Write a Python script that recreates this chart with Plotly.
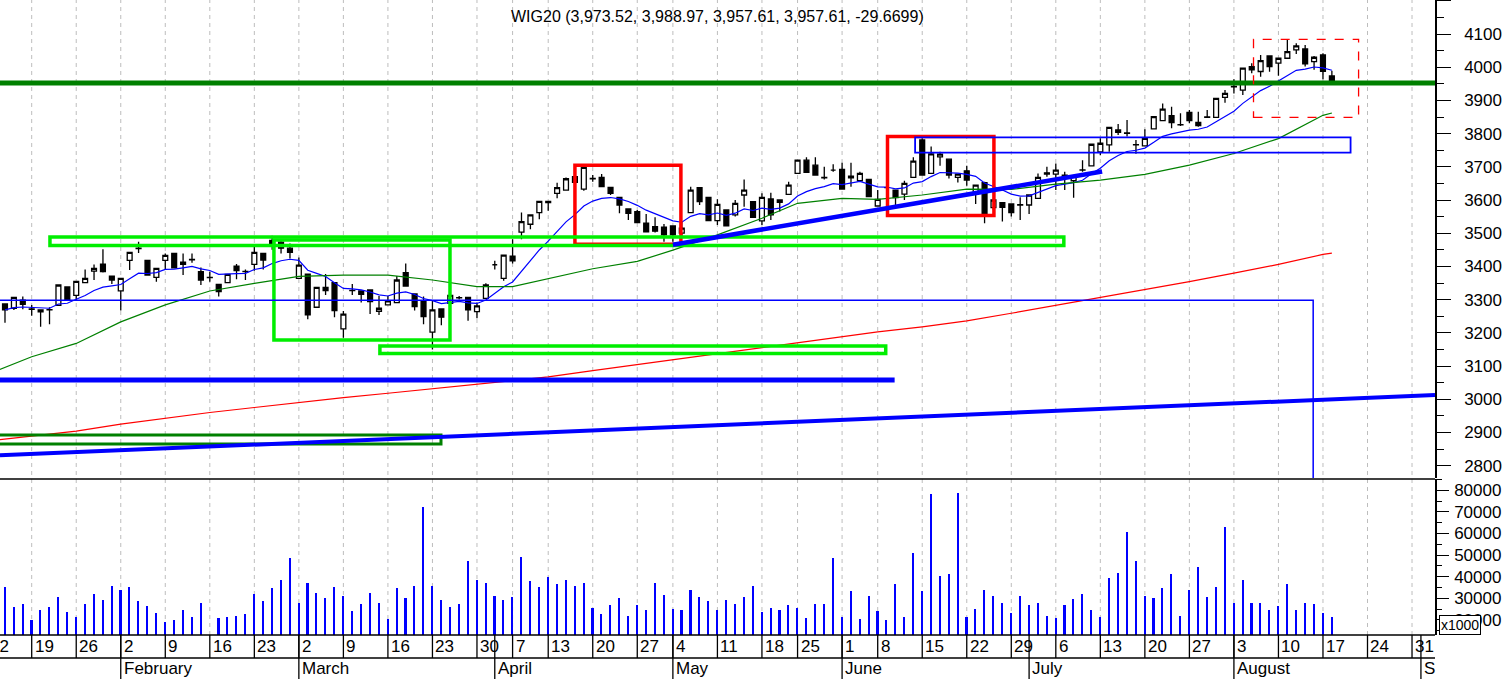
import pandas as pd
import plotly.graph_objects as go

# trading calendar (exchange closed on these days)
holidays = ["2015-04-03", "2015-04-06", "2015-05-01", "2015-05-22", "2015-06-04"]
first_day = "2015-01-14"

open_ = [3287, 3274, 3298,
         3272, 3263, 3270, 3283, 3338,
         3313, 3351, 3386, 3407, 3371,
         3326, 3418, 3455, 3418, 3367,
         3418, 3439, 3406, 3421, 3384,
         3367, 3346, 3351, 3401, 3385,
         3406, 3439, 3478, 3473, 3455,
         3364, 3377, 3277, 3337, 3351,
         3212, 3328, 3326, 3329, 3265,
         3284, 3291, 3381, 3317, 3297,
         3202, 3272, 3289, 3306, 3307,
         3264, 3304, 3405, 3364,
         3431, 3503, 3527, 3562,
         3592, 3620, 3630, 3670, 3633,
         3664, 3668, 3638, 3608, 3573,
         3565, 3530, 3520, 3518,
         3522, 3500, 3562, 3637, 3608,
         3538, 3570, 3555, 3615, 3595,
         3537, 3603, 3600, 3617,
         3680, 3720, 3705, 3667, 3690,
         3692, 3667, 3658, 3662,
         3582, 3637, 3630, 3618, 3668,
         3781, 3680, 3730, 3723, 3668,
         3688, 3618, 3652, 3577, 3592,
         3588, 3585, 3585, 3605, 3682,
         3678, 3675, 3658, 3690, 3703,
         3745, 3766, 3811, 3801, 3767,
         3763, 3814, 3839, 3854, 3826,
         3864, 3834, 3849, 3849, 3909,
         3941, 3931, 4002, 3987, 4034,
         4012, 4027, 4052, 4055, 4017,
         4037, 3973.52]
high = [3289, 3308, 3309,
        3284, 3269, 3277, 3346, 3340,
        3357, 3391, 3406, 3452, 3372,
        3366, 3444, 3474, 3420, 3395,
        3439, 3440, 3439, 3439, 3397,
        3384, 3347, 3377, 3407, 3391,
        3459, 3440, 3492, 3482, 3469,
        3427, 3379, 3338, 3377, 3352,
        3266, 3347, 3327, 3330, 3311,
        3311, 3371, 3409, 3318, 3309,
        3297, 3273, 3314, 3311, 3308,
        3291, 3349, 3417, 3435,
        3482, 3562, 3556, 3597,
        3597, 3652, 3668, 3671, 3700,
        3675, 3678, 3639, 3609, 3574,
        3570, 3558, 3548, 3528,
        3523, 3535, 3640, 3638, 3609,
        3602, 3571, 3600, 3662, 3596,
        3620, 3622, 3601, 3655,
        3721, 3729, 3729, 3700, 3708,
        3712, 3712, 3685, 3663,
        3630, 3639, 3631, 3658, 3729,
        3786, 3761, 3745, 3724, 3679,
        3703, 3646, 3655, 3601, 3593,
        3589, 3608, 3616, 3680, 3700,
        3710, 3685, 3672, 3720, 3769,
        3786, 3820, 3829, 3841, 3781,
        3813, 3852, 3891, 3881, 3861,
        3871, 3866, 3871, 3907, 3931,
        3964, 3998, 4012, 4037, 4035,
        4028, 4084, 4072, 4067, 4034,
        4042, 3988.97]
low = [3230, 3269, 3271,
       3251, 3218, 3226, 3281, 3297,
       3299, 3349, 3359, 3382, 3347,
       3267, 3389, 3440, 3372, 3354,
       3389, 3396, 3374, 3411, 3344,
       3354, 3309, 3350, 3361, 3359,
       3387, 3391, 3450, 3439, 3424,
       3362, 3241, 3276, 3314, 3247,
       3185, 3314, 3291, 3257, 3254,
       3283, 3290, 3340, 3267, 3226,
       3150, 3223, 3288, 3300, 3236,
       3244, 3303, 3391, 3357,
       3409, 3482, 3512, 3542,
       3568, 3605, 3629, 3652, 3628,
       3655, 3639, 3615, 3560, 3540,
       3531, 3503, 3502, 3474,
       3474, 3490, 3561, 3585, 3537,
       3525, 3521, 3550, 3580, 3547,
       3525, 3540, 3565, 3615,
       3679, 3683, 3675, 3662, 3685,
       3633, 3640, 3657, 3610,
       3581, 3634, 3585, 3600, 3667,
       3675, 3679, 3703, 3665, 3653,
       3643, 3588, 3530, 3570, 3535,
       3550, 3540, 3558, 3604, 3670,
       3630, 3630, 3607, 3685, 3702,
       3735, 3745, 3796, 3791, 3739,
       3762, 3813, 3838, 3816, 3823,
       3831, 3821, 3848, 3848, 3893,
       3921, 3916, 3982, 3971, 3986,
       3974, 4026, 4040, 4002, 3992,
       3964, 3957.61]
close = [3269, 3307, 3286,
         3271, 3269, 3269, 3344, 3299,
         3355, 3364, 3394, 3384, 3359,
         3364, 3442, 3454, 3374, 3394,
         3433, 3396, 3413, 3420, 3359,
         3366, 3324, 3376, 3387, 3384,
         3442, 3419, 3466, 3455, 3442,
         3404, 3254, 3337, 3327, 3267,
         3256, 3327, 3316, 3294, 3274,
         3296, 3359, 3341, 3279, 3249,
         3269, 3247, 3313, 3305, 3269,
         3281, 3344, 3405, 3434,
         3417, 3535, 3555, 3596,
         3596, 3637, 3664, 3653, 3698,
         3665, 3640, 3620, 3585, 3560,
         3532, 3504, 3506, 3495,
         3495, 3515, 3630, 3595, 3538,
         3587, 3522, 3590, 3630, 3548,
         3608, 3555, 3593, 3645,
         3720, 3683, 3675, 3668, 3690,
         3633, 3672, 3680, 3610,
         3602, 3637, 3607, 3650, 3717,
         3675, 3739, 3738, 3675, 3678,
         3660, 3645, 3560, 3600, 3578,
         3562, 3586, 3615, 3668, 3678,
         3690, 3670, 3672, 3691, 3768,
         3771, 3819, 3804, 3802, 3766,
         3786, 3851, 3874, 3833, 3827,
         3839, 3824, 3850, 3906, 3921,
         3942, 3997, 3992, 4020, 4002,
         4027, 4047, 4064, 4010, 4030,
         3987.28, 3957.61]
volume = [34900, 25670, 27370,
          19970, 24600, 26000, 30610, 23670,
          21350, 27370, 32000, 29230, 35700,
          33850, 35240, 28760, 26450, 23200,
          19040, 19970, 24600, 21350, 27830,
          11000, 20890, 21350, 21820, 22740,
          32000, 28760, 34780, 38480, 48660,
          27830, 37090, 32460, 30150, 35240,
          31070, 24130, 27370, 32460, 27830,
          20430, 34780, 30150, 35700, 72270,
          35700, 29230, 26000, 27370, 47280,
          38480, 37090, 31070, 29230,
          30610, 49130, 38020, 35240,
          39870, 36630, 38480, 35700, 37090,
          25520, 22740, 26910, 30150, 21820,
          26910, 24600, 37090, 31540,
          25060, 24600, 33850, 30610, 28760,
          24600, 29230, 27370, 30610, 35700,
          23670, 25520, 24600, 26910,
          25520, 20890, 27370, 27370, 48660,
          21350, 33390, 20430, 31070,
          24130, 19970, 36630, 21350, 50980,
          33390, 78290, 40330, 41260, 78750,
          21350, 25060, 33850, 31070, 27830,
          23200, 31070, 26910, 27830, 21820,
          20890, 26910, 29690, 32000, 24600,
          21350, 39410, 41720, 60700, 47280,
          31070, 30150, 34780, 41260, 21820,
          33850, 44500, 30610, 35240, 63010,
          27830, 38480, 27830, 27830, 24600,
          26450, 36630, 24600, 27830, 27370,
          23200, 21350]

# longer moving averages
ma_dates = ["2015-01-13", "2015-01-19", "2015-01-26", "2015-02-02", "2015-02-09",
            "2015-02-16", "2015-02-23", "2015-03-02", "2015-03-09", "2015-03-16",
            "2015-03-23", "2015-03-30", "2015-04-07", "2015-04-13", "2015-04-20",
            "2015-04-27", "2015-05-04", "2015-05-11", "2015-05-18", "2015-05-25",
            "2015-06-01", "2015-06-08", "2015-06-15", "2015-06-22", "2015-06-29",
            "2015-07-06", "2015-07-13", "2015-07-20", "2015-07-27", "2015-08-03",
            "2015-08-10", "2015-08-17", "2015-08-18"]
ma_mid = [3085, 3128, 3168, 3233, 3284, 3326, 3349, 3370, 3374, 3374,
          3359, 3339, 3339, 3362, 3393, 3415, 3449, 3495, 3545, 3590,
          3605, 3602, 3615, 3633, 3632, 3648, 3660, 3677, 3705, 3740,
          3785, 3855, 3862]
ma_long = [2877, 2889, 2904, 2925, 2943, 2960, 2975, 2991, 3005, 3018,
           3032, 3045, 3056, 3067, 3086, 3104, 3119, 3137, 3155, 3170,
           3188, 3203, 3218, 3236, 3259, 3283, 3305, 3329, 3354, 3380,
           3406, 3436, 3440]

title = "WIG20 (3,973.52, 3,988.97, 3,957.61, 3,957.61, -29.6699)"

cal = pd.bdate_range("2015-01-12", "2015-09-04")
cal = cal[~cal.isin(pd.to_datetime(holidays))]
pos = {d: i for i, d in enumerate(cal)}
start = pos[pd.Timestamp(first_day)]
xs = list(range(start, start + len(close)))
ma_x = [pos[pd.Timestamp(d)] for d in ma_dates]
# short average follows the closes (10-day exponential)
ma_fast = pd.Series(close).ewm(span=10, adjust=False).mean()

XR = [1.44, 162.58]
FONT = "Arial, Liberation Sans, sans-serif"


def px(p):
    return (p - XR[0]) / (XR[1] - XR[0])


fig = go.Figure()
fig.add_trace(go.Candlestick(
    x=xs, open=open_, high=high, low=low, close=close,
    increasing=dict(line=dict(color="black", width=1.3), fillcolor="white"),
    decreasing=dict(line=dict(color="black", width=1.3), fillcolor="black"),
    whiskerwidth=0, showlegend=False, hoverinfo="skip"))
fig.add_trace(go.Scatter(x=xs, y=ma_fast, mode="lines",
                         line=dict(color="#0000ff", width=1.2), showlegend=False))
fig.add_trace(go.Scatter(x=ma_x, y=ma_mid, mode="lines",
                         line=dict(color="#008000", width=1.2), showlegend=False))
fig.add_trace(go.Scatter(x=ma_x, y=ma_long, mode="lines",
                         line=dict(color="#ff0000", width=1.2), showlegend=False))
fig.add_trace(go.Bar(x=xs, y=volume, yaxis="y2", width=0.18,
                     marker=dict(color="#0000ff", line=dict(width=0)),
                     showlegend=False))

shapes = []
# drawn objects on the price panel
def box(x0, x1, y0, y1, color, w, dash="solid"):
    shapes.append(dict(type="rect", xref="x", yref="y", x0=x0, x1=x1, y0=y0, y1=y1,
                       line=dict(color=color, width=w, dash=dash), layer="above"))


def seg(x0, y0, x1, y1, color, w):
    shapes.append(dict(type="line", xref="x", yref="y", x0=x0, x1=x1, y0=y0, y1=y1,
                       line=dict(color=color, width=w), layer="above"))


LIME = "#00ee00"
seg(0, 3952.4, 170, 3952.4, "#008000", 5)
box(66.0, 77.9, 3467, 3705, "#ff0000", 3.5)
box(101.1, 113.05, 3553, 3791, "#ff0000", 3.5)
box(7.05, 120.9, 3463, 3488.6, LIME, 3.5)
box(32.2, 51.97, 3178, 3479.5, LIME, 3.5)
box(44.1, 100.9, 3137.8, 3160.3, LIME, 3.5)
box(-5, 50.96, 2865, 2892, "#008000", 3)
seg(-5, 3057.8, 101.9, 3057.8, "#0000ff", 5)
seg(XR[0], 2831, XR[1], 3012.7, "#0000ff", 4)
seg(77.0, 3465.4, 125.2, 3685.8, "#0000ff", 4.5)
box(-5, 148.9, 2700, 3297.9, "#0000ff", 1.5)
box(104.2, 153.1, 3742.5, 3788.8, "#0000ff", 1.8)
box(142.2, 154.0, 3849, 4084, "#ff0000", 1.3, "dash")

# week grid, tick separators and date labels
Y_DAY, Y_MID, Y_BOT = -0.0181, -0.0362, -0.0693
annotations = []
prev = None
for d in cal:
    p = pos[d]
    if prev is None or d.isocalendar().week != prev.isocalendar().week:
        if px(p) > 0:
            shapes.append(dict(type="line", xref="x", yref="paper", x0=p, x1=p, y0=0, y1=1,
                               line=dict(color="#bdbdbd", width=1, dash="4px,4px"), layer="below"))
        if px(p) < 1:
            shapes.append(dict(type="line", xref="paper", yref="paper", x0=px(p), x1=px(p),
                               y0=Y_MID, y1=0, line=dict(color="black", width=1.3)))
            annotations.append(dict(text=str(d.day), xref="paper", yref="paper", x=px(p),
                                    y=Y_DAY, xanchor="left", yanchor="middle", xshift=1,
                                    showarrow=False, font=dict(family=FONT, size=17, color="black")))
    if prev is not None and d.month != prev.month and px(p) < 1:
        name = d.strftime("%B") if d.month < 9 else "S"
        shapes.append(dict(type="line", xref="paper", yref="paper", x0=px(p), x1=px(p),
                           y0=Y_BOT, y1=0, line=dict(color="black", width=1.3)))
        annotations.append(dict(text=name, xref="paper", yref="paper", x=px(p), y=-0.0528,
                                xanchor="left", yanchor="middle", xshift=1, showarrow=False,
                                font=dict(family=FONT, size=17, color="black")))
    prev = d

for yy in [0, Y_MID, 0.2457]:
    shapes.append(dict(type="line", xref="paper", yref="paper", x0=0, x1=1, y0=yy, y1=yy,
                       line=dict(color="black", width=1.5)))

annotations.append(dict(text=title, xref="paper", yref="paper", x=0.5, y=0.9748,
                        xanchor="center", yanchor="middle", showarrow=False,
                        font=dict(family=FONT, size=16, color="black")))
annotations.append(dict(text="x1000", xref="paper", yref="paper", x=1.0025, y=0.0005,
                        xanchor="left", yanchor="bottom", showarrow=False,
                        bgcolor="white", bordercolor="black", borderwidth=1, borderpad=1,
                        font=dict(family=FONT, size=14, color="black")))

price_ticks = list(range(2800, 4201, 100))
fig.update_layout(
    width=1506, height=679,
    margin=dict(l=0, r=71, t=0, b=44),
    paper_bgcolor="white", plot_bgcolor="white",
    showlegend=False,
    bargap=0,
    boxgap=0.22,
    shapes=shapes,
    annotations=annotations,
    xaxis=dict(range=XR, anchor="y2", showticklabels=False, showgrid=False,
               zeroline=False, showline=False, ticks="",
               rangeslider=dict(visible=False)),
    yaxis=dict(domain=[0.2472, 1], range=[2762.6, 4202.4], side="right", anchor="x",
               showgrid=False, zeroline=False, showline=True, linecolor="black", linewidth=1.5,
               ticks="outside", ticklen=14, tickcolor="black", tickwidth=1.3,
               tickvals=price_ticks, ticktext=[str(v) if v < 4200 else "" for v in price_ticks],
               minor=dict(dtick=50, tick0=0, ticks="outside", ticklen=7, tickcolor="black"),
               ticklabelstandoff=10,
               tickfont=dict(family=FONT, size=17, color="black")),
    yaxis2=dict(domain=[0, 0.2452], range=[13000, 85100], side="right", anchor="x",
                showgrid=False, zeroline=False, showline=True, linecolor="black", linewidth=1.5,
                ticks="outside", ticklen=12, tickcolor="black", tickwidth=1.3,
                dtick=10000, tick0=0, tickformat="d",
                minor=dict(dtick=5000, tick0=0, ticks="outside", ticklen=5, tickcolor="black"),
                ticklabelstandoff=2,
                tickfont=dict(family=FONT, size=17, color="black")),
)

fig.write_html("out.html", config={"displayModeBar": False},
               post_script="document.body.style.margin='0';")
